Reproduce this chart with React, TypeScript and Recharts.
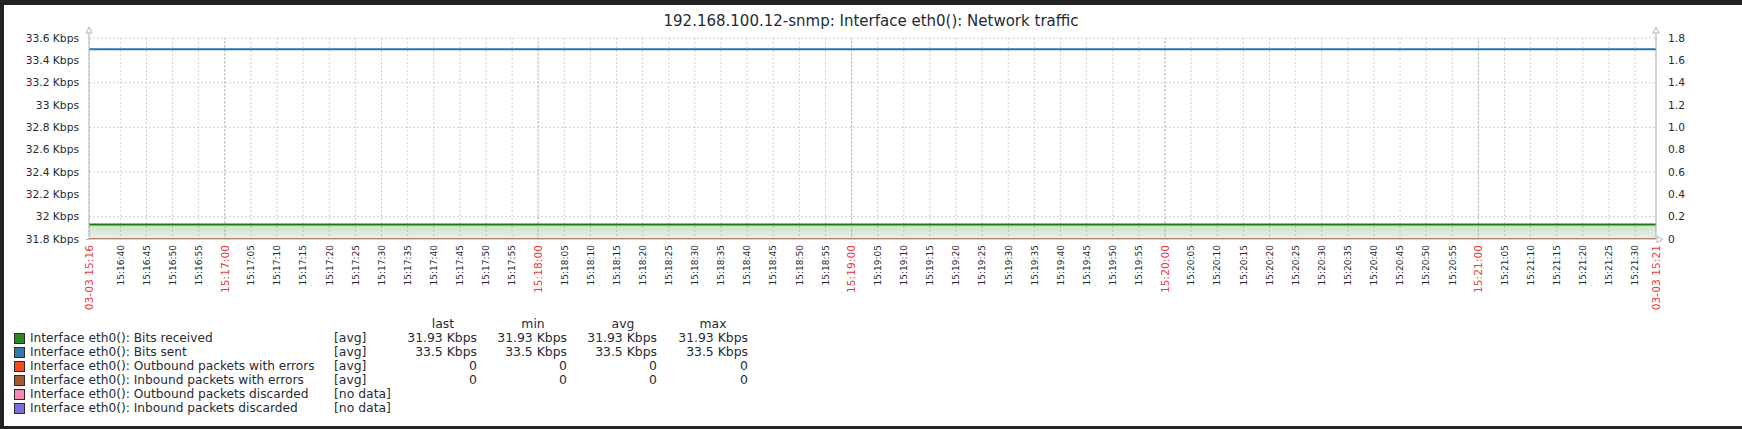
import { ComposedChart, Area, Line, XAxis, YAxis, CartesianGrid, ReferenceLine } from 'recharts';

const W = 1742;
const H = 429;
// plot box (px), shared by the chart margins and the arrow overlay
const PLOT_L = 89;
const PLOT_R = 1656;
const PLOT_T = 38;
const PLOT_B = 239;

const FONT = '"DejaVu Sans", sans-serif';
const DARK = '#1f2c33';
const RED = '#e8383d';
const AXIS = '#aab7bf';
const GRID = '#ccd3d8';
const GRID_MAJOR = '#b3bcc2';

const TITLE = '192.168.100.12-snmp: Interface eth0(): Network traffic';

// time window: 15:16:34 .. 15:21:34, values are seconds from the start
const WINDOW = 300;
const START_H = 15;
const START_M = 16;
const START_S = 34;
const sampleTimes = [0, 60, 120, 180, 240, 300];

// Kbps on left axis
const bitsReceived = [31.93, 31.93, 31.93, 31.93, 31.93, 31.93];
const bitsSent = [33.5, 33.5, 33.5, 33.5, 33.5, 33.5];
// packets on right axis
const outErrors = [0, 0, 0, 0, 0, 0];
const inErrors = [0, 0, 0, 0, 0, 0];

const leftTicks = [31.8, 32, 32.2, 32.4, 32.6, 32.8, 33, 33.2, 33.4, 33.6];
const leftTickLabels = ['31.8 Kbps', '32 Kbps', '32.2 Kbps', '32.4 Kbps', '32.6 Kbps', '32.8 Kbps', '33 Kbps', '33.2 Kbps', '33.4 Kbps', '33.6 Kbps'];
const rightTicks = [0, 0.2, 0.4, 0.6, 0.8, 1, 1.2, 1.4, 1.6, 1.8];
const rightTickLabels = ['0', '0.2', '0.4', '0.6', '0.8', '1.0', '1.2', '1.4', '1.6', '1.8'];

const edgeLabels = ['03-03 15:16', '03-03 15:21'];
const majorTicks = [26, 86, 146, 206, 266]; // full minutes

const legendNames = [
    'Interface eth0(): Bits received',
    'Interface eth0(): Bits sent',
    'Interface eth0(): Outbound packets with errors',
    'Interface eth0(): Inbound packets with errors',
    'Interface eth0(): Outbound packets discarded',
    'Interface eth0(): Inbound packets discarded',
];
const legendColors = ['#2a8a22', '#3579a8', '#f64a1e', '#a8582a', '#fa86ae', '#7b6ee0'];
const legendFuncs = ['[avg]', '[avg]', '[avg]', '[avg]', '[no data]', '[no data]'];
const legendSeries: (number[] | null)[] = [bitsReceived, bitsSent, outErrors, inErrors, null, null];

const data = sampleTimes.map((t, i) => ({
    t,
    received: bitsReceived[i],
    sent: bitsSent[i],
    outErr: outErrors[i],
    inErr: inErrors[i],
}));

// every 5 s tick between the edges
const timeTicks: number[] = [0];
for (let t = 6; t < WINDOW; t += 5) timeTicks.push(t);
timeTicks.push(WINDOW);

const pad = (n: number) => String(n).padStart(2, '0');
function timeLabel(off: number) {
    if (off === 0) return edgeLabels[0];
    if (off === WINDOW) return edgeLabels[1];
    const total = START_H * 3600 + START_M * 60 + START_S + off;
    return `${pad(Math.floor(total / 3600))}:${pad(Math.floor(total / 60) % 60)}:${pad(total % 60)}`;
}

function fmt(v: number) {
    return v === 0 ? '0' : `${+v.toFixed(2)} Kbps`;
}

function TimeTick({ x, payload }: any) {
    const v = payload.value as number;
    const red = v === 0 || v === WINDOW || majorTicks.includes(v);
    const y = PLOT_B + 6;
    return (
        <text
            x={x}
            y={y}
            transform={`rotate(-90 ${x} ${y})`}
            textAnchor="end"
            dy="0.36em"
            fontSize={red ? 10.7 : 9}
            fontFamily={FONT}
            fill={red ? RED : DARK}
        >
            {timeLabel(v)}
        </text>
    );
}

export default function App() {
    const arrow = (cx: number, cy: number, dir: 'up' | 'right') =>
        dir === 'up'
            ? `${cx - 3},${cy + 5} ${cx + 3},${cy + 5} ${cx},${cy - 1}`
            : `${cx - 1},${cy - 3} ${cx - 1},${cy + 3} ${cx + 5},${cy}`;

    const statCols = [
        { head: 'last', right: 477, center: 443, f: (s: number[]) => s[s.length - 1] },
        { head: 'min', right: 567, center: 533, f: (s: number[]) => Math.min(...s) },
        { head: 'avg', right: 657, center: 623, f: (s: number[]) => s.reduce((a, b) => a + b, 0) / s.length },
        { head: 'max', right: 748, center: 713, f: (s: number[]) => Math.max(...s) },
    ];

    return (
        <div style={{ position: 'relative', width: W, height: H, background: '#222', fontFamily: FONT, color: DARK }}>
            <style>{`body{margin:0}`}</style>
            <div style={{ position: 'absolute', left: 4, top: 5, width: W - 4, height: H - 8, background: '#fff' }} />
            <div style={{ position: 'absolute', left: 0, top: 0 }}>
                <ComposedChart
                    width={W}
                    height={H}
                    data={data}
                    margin={{ top: PLOT_T, right: 0, bottom: H - PLOT_B - 30, left: 0 }}
                >
                    <defs>
                        <linearGradient id="recvFill" x1="0" y1="0" x2="0" y2="1">
                            <stop offset="0%" stopColor="#1A7C11" stopOpacity={0.22} />
                            <stop offset="100%" stopColor="#1A7C11" stopOpacity={0.1} />
                        </linearGradient>
                    </defs>
                    <CartesianGrid yAxisId="left" stroke={GRID} strokeDasharray="2 2" />
                    {majorTicks.map((m) => (
                        <ReferenceLine key={m} x={m} yAxisId="left" stroke={GRID_MAJOR} strokeDasharray="2 2" />
                    ))}
                    <XAxis
                        dataKey="t"
                        type="number"
                        domain={[0, WINDOW]}
                        ticks={timeTicks}
                        interval={0}
                        height={30}
                        tick={<TimeTick />}
                        tickLine={false}
                        stroke={AXIS}
                    />
                    <YAxis
                        yAxisId="left"
                        orientation="left"
                        width={PLOT_L}
                        domain={[31.8, 33.6]}
                        ticks={leftTicks}
                        tickFormatter={(v: number) => leftTickLabels[leftTicks.indexOf(v)] ?? ''}
                        tickLine={false}
                        tickSize={0}
                        tickMargin={10}
                        stroke={AXIS}
                        tick={{ fill: DARK, fontSize: 10.7, fontFamily: FONT }}
                        allowDataOverflow
                    />
                    <YAxis
                        yAxisId="right"
                        orientation="right"
                        width={W - PLOT_R}
                        domain={[0, 1.8]}
                        ticks={rightTicks}
                        tickFormatter={(v: number) => rightTickLabels[rightTicks.indexOf(v)] ?? ''}
                        tickLine={false}
                        tickSize={0}
                        tickMargin={12}
                        stroke={AXIS}
                        tick={{ fill: DARK, fontSize: 10.7, fontFamily: FONT }}
                        allowDataOverflow
                    />
                    <Area
                        yAxisId="left"
                        dataKey="received"
                        type="linear"
                        stroke="#1A7C11"
                        strokeWidth={2}
                        fill="url(#recvFill)"
                        fillOpacity={1}
                        dot={false}
                        activeDot={false}
                        isAnimationActive={false}
                    />
                    <Line yAxisId="left" dataKey="sent" type="linear" stroke="#2774A4" strokeWidth={2} dot={false} activeDot={false} isAnimationActive={false} />
                    <Line yAxisId="right" dataKey="outErr" type="linear" stroke="#F63100" strokeWidth={1.5} dot={false} activeDot={false} isAnimationActive={false} />
                    <Line yAxisId="right" dataKey="inErr" type="linear" stroke="#A54F10" strokeWidth={1.5} dot={false} activeDot={false} isAnimationActive={false} />
                </ComposedChart>
            </div>

            {/* title and axis arrows */}
            <svg width={W} height={H} style={{ position: 'absolute', left: 0, top: 0, pointerEvents: 'none' }}>
                <text x={W / 2} y={21} textAnchor="middle" dy="0.36em" fontSize={15} fontFamily={FONT} fill={DARK}>
                    {TITLE}
                </text>
                <line x1={PLOT_L} y1={PLOT_T - 5} x2={PLOT_L} y2={PLOT_T} stroke={AXIS} />
                <line x1={PLOT_R} y1={PLOT_T - 5} x2={PLOT_R} y2={PLOT_T} stroke={AXIS} />
                <line x1={PLOT_L - 3} y1={PLOT_B + 0.5} x2={PLOT_L} y2={PLOT_B + 0.5} stroke={AXIS} />
                <polygon points={arrow(PLOT_L, PLOT_T - 10, 'up')} fill="#fff" stroke={AXIS} />
                <polygon points={arrow(PLOT_R, PLOT_T - 10, 'up')} fill="#fff" stroke={AXIS} />
                <polygon points={arrow(PLOT_R + 2, PLOT_B + 0.5, 'right')} fill="#fff" stroke={AXIS} />
            </svg>

            {/* legend */}
            <div style={{ position: 'absolute', left: 0, top: 0, fontSize: 12.4, lineHeight: '14px', whiteSpace: 'nowrap' }}>
                {statCols.map((c) => (
                    <div key={c.head} style={{ position: 'absolute', top: 317, left: c.center - 40, width: 80, textAlign: 'center' }}>
                        {c.head}
                    </div>
                ))}
                {legendNames.map((name, i) => {
                    const top = 331 + i * 14;
                    const s = legendSeries[i];
                    return (
                        <div key={name}>
                            <div
                                style={{
                                    position: 'absolute',
                                    left: 14,
                                    top: top + 2,
                                    width: 9,
                                    height: 9,
                                    background: legendColors[i],
                                    border: '1px solid #2b2b2b',
                                }}
                            />
                            <div style={{ position: 'absolute', left: 30, top, fontSize: 12.2 }}>{name}</div>
                            <div style={{ position: 'absolute', left: 334, top }}>{legendFuncs[i]}</div>
                            {s &&
                                statCols.map((c) => (
                                    <div key={c.head} style={{ position: 'absolute', top, left: c.right - 100, width: 100, textAlign: 'right' }}>
                                        {fmt(c.f(s))}
                                    </div>
                                ))}
                        </div>
                    );
                })}
            </div>
        </div>
    );
}
